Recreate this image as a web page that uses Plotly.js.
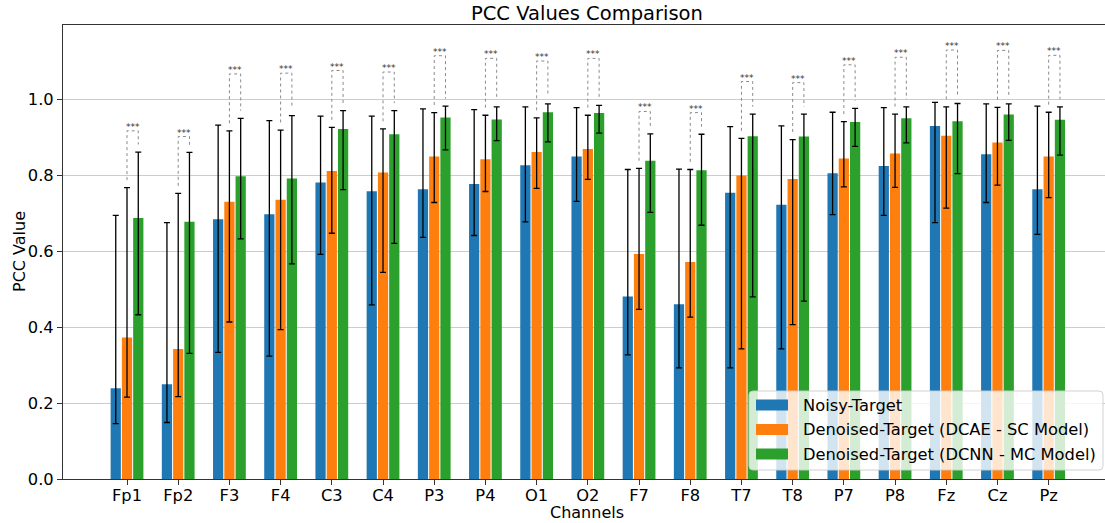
<!DOCTYPE html>
<html>
<head>
<meta charset="utf-8">
<script src="https://cdn.plot.ly/plotly-3.0.1.min.js"></script>
<style>
  html, body { margin: 0; padding: 0; background: #ffffff; }
  #chart { width: 1105px; height: 523px; }
</style>
</head>
<body>
<div id="chart"></div>
<script>
// EEG channels on the x axis
const channels = ['Fp1', 'Fp2', 'F3', 'F4', 'C3', 'C4', 'P3', 'P4', 'O1', 'O2',
                  'F7', 'F8', 'T7', 'T8', 'P7', 'P8', 'Fz', 'Cz', 'Pz'];

// Noisy signal vs. clean target
const noisyMean  = [0.239, 0.250, 0.685, 0.698, 0.782, 0.759, 0.764, 0.778, 0.827, 0.850,
                    0.481, 0.461, 0.755, 0.723, 0.806, 0.825, 0.931, 0.856, 0.764];
const noisyUpper = [0.695, 0.676, 0.933, 0.945, 0.957, 0.957, 0.976, 0.974, 0.981, 0.979,
                    0.816, 0.817, 0.929, 0.931, 0.967, 0.979, 0.993, 0.989, 0.983];
const noisyLower = [0.146, 0.149, 0.334, 0.324, 0.592, 0.459, 0.637, 0.642, 0.678, 0.732,
                    0.327, 0.293, 0.293, 0.343, 0.697, 0.695, 0.676, 0.729, 0.645];

// Single-channel DCAE output vs. clean target
const dcaeMean  = [0.373, 0.343, 0.731, 0.736, 0.812, 0.808, 0.850, 0.843, 0.862, 0.870,
                   0.593, 0.572, 0.800, 0.791, 0.845, 0.858, 0.905, 0.887, 0.850];
const dcaeUpper = [0.768, 0.753, 0.918, 0.920, 0.927, 0.923, 0.966, 0.959, 0.952, 0.959,
                   0.819, 0.816, 0.898, 0.895, 0.942, 0.962, 0.981, 0.980, 0.967];
const dcaeLower = [0.216, 0.217, 0.414, 0.394, 0.648, 0.545, 0.729, 0.758, 0.766, 0.790,
                   0.447, 0.427, 0.343, 0.407, 0.770, 0.769, 0.714, 0.775, 0.742];

// Multi-channel DCNN output vs. clean target
const dcnnMean  = [0.688, 0.678, 0.798, 0.792, 0.923, 0.909, 0.953, 0.948, 0.967, 0.965,
                   0.839, 0.814, 0.904, 0.903, 0.941, 0.951, 0.943, 0.961, 0.947];
const dcnnUpper = [0.862, 0.861, 0.951, 0.958, 0.971, 0.971, 0.983, 0.981, 0.989, 0.985,
                   0.910, 0.909, 0.962, 0.962, 0.977, 0.981, 0.990, 0.989, 0.981];
const dcnnLower = [0.433, 0.331, 0.633, 0.567, 0.763, 0.621, 0.868, 0.892, 0.889, 0.912,
                   0.703, 0.669, 0.480, 0.469, 0.877, 0.886, 0.805, 0.893, 0.854];

// Height of the significance bracket (DCAE vs. DCNN) above each channel
const sigHeight = [0.918, 0.903, 1.068, 1.070, 1.077, 1.073, 1.116, 1.109, 1.102, 1.109,
                   0.969, 0.966, 1.048, 1.045, 1.092, 1.112, 1.131, 1.130, 1.117];
const sigLabel = '***';

const seriesNames = ['Noisy-Target',
                     'Denoised-Target (DCAE - SC Model)',
                     'Denoised-Target (DCNN - MC Model)'];

// ---- styling / geometry ----
const colors = ['#1f77b4', '#ff7f0e', '#2ca02c'];
const FONT = 'DejaVu Sans, Liberation Sans, sans-serif';
const W = 1105, H = 523;
const M = {l: 63, r: 0, t: 25, b: 44};
const AXES_CENTER_PX = 587;     // horizontal centre of the axes box
const BAR_W = 0.2, STEP = 0.22;
const LEG_GAP = 0.02;           // gap between error-bar cap and bracket leg

const idx = channels.map((_, i) => i);

// pixel -> paper helpers for overlay items
const PW = W - M.l - M.r, PH = H - M.t - M.b;
const px = v => (v - M.l) / PW;
const py = v => (H - M.b - v) / PH;

function barTrace(k, mean, upper, lower) {
  return {
    type: 'bar',
    name: seriesNames[k],
    x: idx,
    y: mean,
    width: BAR_W,
    offset: (k - 1) * STEP - BAR_W / 2,
    marker: {color: colors[k], line: {width: 0}},
    error_y: {
      type: 'data',
      symmetric: false,
      array: upper.map((u, i) => u - mean[i]),
      arrayminus: lower.map((l, i) => mean[i] - l),
      color: '#000000',
      thickness: 1.3,
      width: 3
    },
    showlegend: false,
    hoverinfo: 'skip'
  };
}

// significance brackets: dotted line from the DCAE bar to the DCNN bar
const bx = [], by = [];
idx.forEach(i => {
  const xa = i, xb = i + STEP;
  bx.push(xa, xa, xb, xb, null);
  by.push(dcaeUpper[i] + LEG_GAP, sigHeight[i], sigHeight[i], dcnnUpper[i] + LEG_GAP, null);
});
const bracketTrace = {
  type: 'scatter', mode: 'lines', x: bx, y: by,
  line: {color: '#8a8a8a', width: 1, dash: 'dot'},
  showlegend: false, hoverinfo: 'skip', connectgaps: false
};

const data = [
  bracketTrace,
  barTrace(0, noisyMean, noisyUpper, noisyLower),
  barTrace(1, dcaeMean, dcaeUpper, dcaeLower),
  barTrace(2, dcnnMean, dcnnUpper, dcnnLower)
];

const annotations = idx.map(i => ({
  x: i + STEP / 2, y: sigHeight[i], xref: 'x', yref: 'y',
  text: sigLabel, showarrow: false, yanchor: 'bottom', xanchor: 'center',
  yshift: -3,
  font: {family: FONT, size: 9, color: '#333333'}
}));

// chart title and axis titles
annotations.push({
  x: px(AXES_CENTER_PX), y: py(14), xref: 'paper', yref: 'paper',
  text: 'PCC Values Comparison', showarrow: false,
  xanchor: 'center', yanchor: 'middle',
  font: {family: FONT, size: 19.5, color: '#000000'}
});
annotations.push({
  x: px(AXES_CENTER_PX), y: py(512), xref: 'paper', yref: 'paper',
  text: 'Channels', showarrow: false,
  xanchor: 'center', yanchor: 'middle',
  font: {family: FONT, size: 16, color: '#000000'}
});
annotations.push({
  x: px(19), y: py((M.t + H - M.b) / 2), xref: 'paper', yref: 'paper',
  text: 'PCC Value', showarrow: false, textangle: -90,
  xanchor: 'center', yanchor: 'middle',
  font: {family: FONT, size: 16, color: '#000000'}
});

// legend box drawn in pixel geometry, converted to paper coordinates
const shapes = [];
const box = {x0: 749, x1: 1103, y0: 391, y1: 470, r: 4};
shapes.push({
  type: 'path', xref: 'paper', yref: 'paper',
  path: (() => {
    const {x0, x1, y0, y1, r} = box;
    const P = (x, y) => `${px(x)},${py(y)}`;
    return `M${P(x0 + r, y0)} L${P(x1 - r, y0)} Q${P(x1, y0)} ${P(x1, y0 + r)} ` +
           `L${P(x1, y1 - r)} Q${P(x1, y1)} ${P(x1 - r, y1)} L${P(x0 + r, y1)} ` +
           `Q${P(x0, y1)} ${P(x0, y1 - r)} L${P(x0, y0 + r)} Q${P(x0, y0)} ${P(x0 + r, y0)} Z`;
  })(),
  fillcolor: 'rgba(255,255,255,0.8)',
  line: {color: 'rgba(204,204,204,0.9)', width: 1},
  layer: 'above'
});
const rowY = [405, 429.5, 454];
seriesNames.forEach((name, k) => {
  shapes.push({
    type: 'rect', xref: 'paper', yref: 'paper',
    x0: px(756), x1: px(788), y0: py(rowY[k] + 5.5), y1: py(rowY[k] - 5.5),
    fillcolor: colors[k], line: {width: 0}, layer: 'above'
  });
  annotations.push({
    x: px(801), y: py(rowY[k]), xref: 'paper', yref: 'paper',
    text: name, showarrow: false, xanchor: 'left', yanchor: 'middle',
    font: {family: FONT, size: 16.3, color: '#000000'}
  });
});

const layout = {
  width: W, height: H,
  margin: M,
  paper_bgcolor: '#ffffff', plot_bgcolor: '#ffffff',
  font: {family: FONT, size: 16, color: '#000000'},
  barmode: 'overlay',
  showlegend: false,
  xaxis: {
    range: [-1.25, 19.1],
    tickmode: 'array', tickvals: idx, ticktext: channels,
    ticks: 'outside', ticklen: 5, tickwidth: 1, tickcolor: '#333333',
    ticklabelstandoff: -4,
    showgrid: false, zeroline: false,
    showline: true, linecolor: '#333333', linewidth: 1, mirror: true,
    tickfont: {family: FONT, size: 16.3, color: '#000000'}
  },
  yaxis: {
    range: [0, 1.197],
    tickmode: 'array', tickvals: [0, 0.2, 0.4, 0.6, 0.8, 1.0], tickformat: '.1f',
    ticks: 'outside', ticklen: 5, tickwidth: 1, tickcolor: '#333333',
    showgrid: true, gridcolor: '#cccccc', gridwidth: 1,
    zeroline: false,
    showline: true, linecolor: '#333333', linewidth: 1,
    tickfont: {family: FONT, size: 16.3, color: '#000000'}
  },
  shapes: shapes,
  annotations: annotations
};

Plotly.newPlot('chart', data, layout, {staticPlot: true, displayModeBar: false});
</script>
</body>
</html>
